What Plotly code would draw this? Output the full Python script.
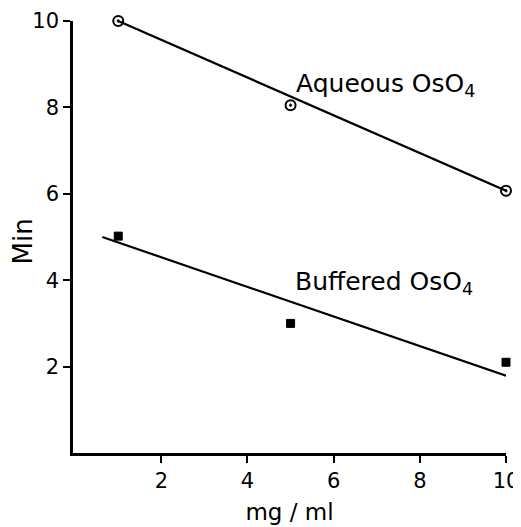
import plotly.graph_objects as go

# Data
aq_x = [1, 5, 10]
aq_y = [10.0, 8.05, 6.07]
aq_fit_x = [1, 10]
aq_fit_y = [10.0, 6.07]

buf_x = [1, 5, 10]
buf_y = [5.02, 3.0, 2.1]
buf_fit_x = [0.63, 10]
buf_fit_y = [5.0, 1.79]

x_ticks = [2, 4, 6, 8, 10]
y_ticks = [2, 4, 6, 8, 10]

FONT = "DejaVu Sans"

fig = go.Figure()
fig.add_trace(go.Scatter(x=aq_fit_x, y=aq_fit_y, mode="lines",
                         line=dict(color="black", width=2.2), cliponaxis=False,
                         showlegend=False, hoverinfo="skip"))
fig.add_trace(go.Scatter(x=aq_x, y=aq_y, mode="markers",
                         marker=dict(symbol="circle-open-dot", size=10, color="black",
                                     line=dict(color="black", width=2)),
                         cliponaxis=False, showlegend=False))
fig.add_trace(go.Scatter(x=buf_fit_x, y=buf_fit_y, mode="lines",
                         line=dict(color="black", width=2.2), cliponaxis=False,
                         showlegend=False, hoverinfo="skip"))
fig.add_trace(go.Scatter(x=buf_x, y=buf_y, mode="markers",
                         marker=dict(symbol="square", size=8, color="black",
                                     line=dict(color="black", width=1)),
                         cliponaxis=False, showlegend=False))

fig.add_annotation(x=5.08, y=8.52, xref="x", yref="y", xanchor="left", yanchor="middle",
                   text="Aqueous OsO<sub>4</sub>",
                   showarrow=False, font=dict(family=FONT, size=25, color="black"))
fig.add_annotation(x=5.05, y=3.93, xref="x", yref="y", xanchor="left", yanchor="middle",
                   text="Buffered OsO<sub>4</sub>",
                   showarrow=False, font=dict(family=FONT, size=25, color="black"))

fig.add_annotation(x=-0.115, y=0.49, xref="paper", yref="paper", xanchor="center",
                   yanchor="middle", text="Min", showarrow=False,
                   textangle=-90, font=dict(family=FONT, size=26, color="black"))

# page body has an 8px default margin, so the figure is sized to fit the window
fig.update_layout(
    width=513, height=519,
    margin=dict(l=65, r=15, t=13, b=74, autoexpand=False),
    paper_bgcolor="white", plot_bgcolor="white",
    font=dict(family=FONT, size=20, color="black"),
    xaxis=dict(range=[-0.05, 10], tickvals=x_ticks, ticks="outside", ticklen=7,
               tickwidth=2, tickcolor="black", showline=True, linecolor="black",
               linewidth=2.5, showgrid=False, zeroline=False, automargin=False,
               tickfont=dict(family=FONT, size=21, color="black"),
               title=dict(text="mg / ml", font=dict(family=FONT, size=23), standoff=12)),
    yaxis=dict(range=[0, 10], tickvals=y_ticks, ticks="outside", ticklen=7,
               tickwidth=2, tickcolor="black", showline=True, linecolor="black",
               linewidth=2.5, showgrid=False, zeroline=False, automargin=False,
               tickfont=dict(family=FONT, size=21, color="black")),
)

fig.write_html("out.html")
